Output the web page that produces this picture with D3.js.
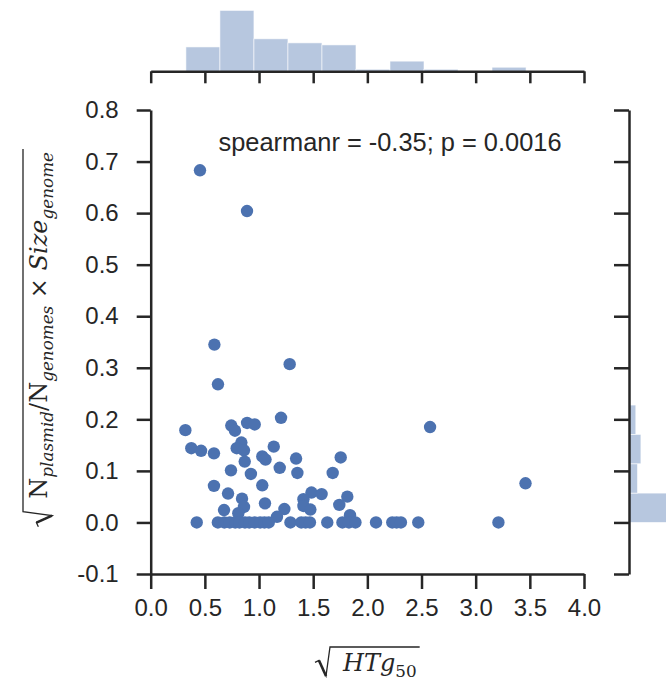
<!DOCTYPE html>
<html>
<head>
<meta charset="utf-8">
<script src="https://cdn.jsdelivr.net/npm/d3@7/dist/d3.min.js"></script>
<style>
  body { margin: 0; background: #fff; }
  svg { display: block; }
</style>
</head>
<body>
<script>
// ---------- data ----------
const htg50 = [
  0.455, 0.889, 0.588, 1.283, 0.621, 2.579, 3.46,
  0.32, 0.375, 0.465, 0.584, 0.744, 0.778, 0.89, 0.837, 0.794, 0.861, 0.868, 0.741, 0.925,
  0.584, 0.714, 0.843, 0.861, 0.677, 0.809,
  1.203, 0.96, 1.136, 1.03, 1.06, 1.191, 1.342, 1.354, 1.03, 1.484, 1.41, 1.055, 1.41, 1.474,
  1.234, 1.166,
  1.754, 1.68, 1.578, 1.815, 1.741, 1.84,
  0.425, 0.62, 0.68, 0.73, 0.78, 0.82, 0.87, 0.91, 0.96, 1.01, 1.05, 1.09, 1.29, 1.39, 1.43,
  1.47, 1.63, 1.77, 1.83, 1.89, 2.08, 2.23, 2.27, 2.31, 2.47, 3.21
];
const plasmidDensity = [
  0.683, 0.604, 0.345, 0.307, 0.268, 0.185, 0.076,
  0.179, 0.144, 0.139, 0.134, 0.188, 0.178, 0.193, 0.155, 0.144, 0.140, 0.118, 0.101, 0.094,
  0.071, 0.056, 0.046, 0.030, 0.024, 0.018,
  0.203, 0.190, 0.147, 0.128, 0.122, 0.106, 0.124, 0.096, 0.072, 0.058, 0.045, 0.037, 0.032, 0.025,
  0.026, 0.011,
  0.126, 0.096, 0.055, 0.050, 0.034, 0.014,
  0, 0, 0, 0, 0, 0, 0, 0, 0, 0, 0, 0, 0, 0, 0,
  0, 0, 0, 0, 0, 0, 0, 0, 0, 0, 0
];
// marginal histograms (counts per bin and the binned range)
const topHistRange = [0.325, 3.465];
const topHistCounts = [12, 30, 16, 14, 13, 1, 5, 1, 0, 2];
const rightHistRange = [0, 0.683];
const rightHistCounts = [57, 10, 14, 8, 1, 1, 1, 0, 0, 0, 1, 1];

const xTicks = [0, 0.5, 1, 1.5, 2, 2.5, 3, 3.5, 4];
const xTickLabels = ["0.0", "0.5", "1.0", "1.5", "2.0", "2.5", "3.0", "3.5", "4.0"];
const yTicks = [-0.1, 0, 0.1, 0.2, 0.3, 0.4, 0.5, 0.6, 0.7, 0.8];
const yTickLabels = ["-0.1", "0.0", "0.1", "0.2", "0.3", "0.4", "0.5", "0.6", "0.7", "0.8"];
const statText = "spearmanr = -0.35; p = 0.0016";

// ---------- layout ----------
const W = 666, H = 681;
const ink = "#262626";
const pointColor = "#4C72B0";
const barColor = "rgb(183,199,223)";
const sans = "'Liberation Sans', Arial, sans-serif";
const serif = "'DejaVu Serif', 'Liberation Serif', serif";

const svg = d3.select("body").append("svg").attr("width", W).attr("height", H);

const x = d3.scaleLinear().domain([0, 4]).range([150.7, 584]);
const y = d3.scaleLinear().domain([-0.1, 0.8]).range([574, 110]);
const topBase = 71.3;
const hTop = d3.scaleLinear().domain([0, 30]).range([topBase, 10.4]);
const rightBase = 629;
const hRight = d3.scaleLinear().domain([0, 60]).range([rightBase, rightBase + 51]);

// ---------- marginal histograms ----------
function edges(range, n) {
  return d3.range(n + 1).map(i => range[0] + i * (range[1] - range[0]) / n);
}
const tE = edges(topHistRange, topHistCounts.length);
svg.append("g").selectAll("rect").data(topHistCounts).join("rect")
  .attr("x", (d, i) => x(tE[i]))
  .attr("width", (d, i) => x(tE[i + 1]) - x(tE[i]))
  .attr("y", d => hTop(d))
  .attr("height", d => topBase - hTop(d))
  .attr("fill", barColor)
  .attr("stroke", "rgba(255,255,255,0.7)").attr("stroke-width", 0.8);

const rE = edges(rightHistRange, rightHistCounts.length);
svg.append("g").selectAll("rect").data(rightHistCounts).join("rect")
  .attr("y", (d, i) => y(rE[i + 1]))
  .attr("height", (d, i) => y(rE[i]) - y(rE[i + 1]))
  .attr("x", rightBase)
  .attr("width", d => hRight(d) - rightBase)
  .attr("fill", barColor)
  .attr("stroke", "rgba(255,255,255,0.7)").attr("stroke-width", 0.8);

// ---------- axes ----------
function styleAxis(g) {
  g.select(".domain").attr("stroke", ink).attr("stroke-width", 2.5);
  g.selectAll(".tick line").attr("stroke", ink).attr("stroke-width", 2.5);
  g.selectAll(".tick text").attr("fill", ink).style("font-family", sans).style("font-size", "24px");
}
svg.append("g").attr("transform", "translate(0,574)")
  .call(d3.axisBottom(x).tickValues(xTicks).tickFormat((d, i) => xTickLabels[i])
    .tickSize(15).tickSizeOuter(0).tickPadding(10))
  .call(styleAxis);
svg.append("g").attr("transform", "translate(150.7,0)")
  .call(d3.axisLeft(y).tickValues(yTicks).tickFormat((d, i) => yTickLabels[i])
    .tickSize(14).tickSizeOuter(0).tickPadding(18))
  .call(styleAxis);
svg.append("g").attr("transform", `translate(0,${topBase})`)
  .call(d3.axisBottom(x).tickValues(xTicks).tickFormat("").tickSize(12).tickSizeOuter(0))
  .call(styleAxis);
svg.append("g").attr("transform", `translate(${rightBase},0)`)
  .call(d3.axisLeft(y).tickValues(yTicks).tickFormat("").tickSize(15).tickSizeOuter(0))
  .call(styleAxis);

// ---------- scatter ----------
svg.append("g").selectAll("circle").data(htg50).join("circle")
  .attr("cx", d => x(d))
  .attr("cy", (d, i) => y(plasmidDensity[i]))
  .attr("r", 6.2)
  .attr("fill", pointColor);

// ---------- stat annotation ----------
svg.append("text").attr("x", 390).attr("y", 151)
  .attr("text-anchor", "middle").attr("fill", ink)
  .style("font-family", sans).style("font-size", "25.4px")
  .text(statText);

// ---------- math labels with radical ----------
function mathLabel(g, parts, fs) {
  const t = g.append("text").attr("x", 0).attr("y", 0).attr("fill", ink)
    .style("font-family", serif).style("font-size", fs + "px");
  let shift = 0;
  parts.forEach(p => {
    const s = t.append("tspan").text(p.t)
      .style("font-style", p.it ? "italic" : "normal");
    const want = p.sub ? fs * 0.26 : 0;
    if (want !== shift) { s.attr("dy", want - shift); shift = want; }
    if (p.sub) s.style("font-size", (fs * 0.7) + "px");
  });
  const L = t.node().getComputedTextLength();
  const top = -fs * 1.0;
  g.append("path")
    .attr("d", `M${-28},${-fs * 0.36} L${-24},${-fs * 0.44} L${-17},${5} L${-13},${top} L${L + 3},${top}`)
    .attr("fill", "none").attr("stroke", ink).attr("stroke-width", 1.3).attr("stroke-linejoin", "miter");
  g.append("path")
    .attr("d", `M${-24},${-fs * 0.44} L${-17},${5}`)
    .attr("stroke", ink).attr("stroke-width", 2.6);
  return L;
}

const xl = svg.append("g");
mathLabel(xl, [{t: "HTg", it: true}, {t: "50", sub: true}], 24);
xl.attr("transform", "translate(343,671)");

const yl = svg.append("g");
const Ly = mathLabel(yl, [
  {t: "N"}, {t: "plasmid", it: true, sub: true},
  {t: "/N"}, {t: "genomes", it: true, sub: true},
  {t: " × "}, {t: "Size", it: true}, {t: "genome", it: true, sub: true}
], 24);
yl.attr("transform", `translate(47,${152 + Ly}) rotate(-90)`);
</script>
</body>
</html>
